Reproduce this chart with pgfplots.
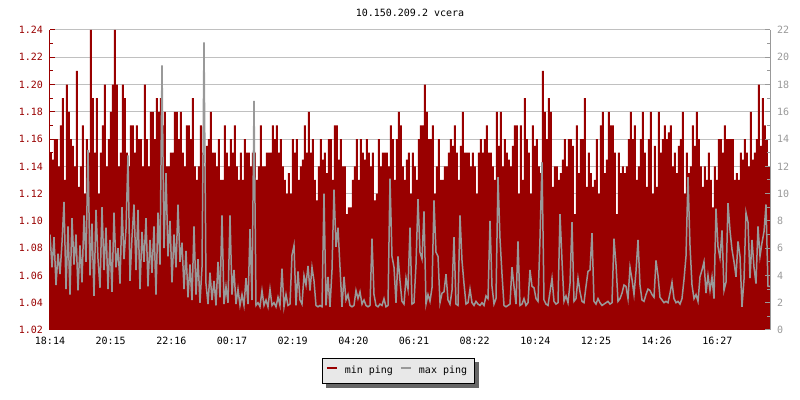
\documentclass[border=0pt]{standalone}
\usepackage{fontspec}
\setmainfont{DejaVu Sans Mono}
\usepackage{pgfplots}
\pgfplotsset{compat=1.18}
\usepackage{pgfplotstable}
\pgfdeclarelayer{background}
\pgfsetlayers{background,main}

\definecolor{ddred}{HTML}{990000}
\definecolor{pgray}{HTML}{999999}
\definecolor{gridgray}{HTML}{C0C0C0}
\definecolor{leggray}{HTML}{E8E8E8}
\definecolor{shadowgray}{HTML}{666666}
\newcommand{\sz}{\fontsize{5}{6}\selectfont}

% one sample every 4 minutes from 18:14; m = min ping (left), M = max ping (right)
\pgfplotstableread[row sep=\\]{
m M\\
1.150 7.0\\ 1.145 4.6\\ 1.160 6.8\\ 1.160 3.3\\ 1.140 5.6\\ 1.170 4.1\\ 1.190 6.4\\ 1.130 9.4\\ 1.200 3.0\\ 1.180 7.6\\
1.160 2.6\\ 1.155 8.2\\ 1.140 4.8\\ 1.210 7.0\\ 1.125 2.9\\ 1.140 6.2\\ 1.170 3.5\\ 1.120 8.4\\ 1.160 5.0\\ 1.150 13.2\\
1.240 4.0\\ 1.190 7.8\\ 1.150 2.5\\ 1.190 8.8\\ 1.120 5.2\\ 1.150 3.1\\ 1.170 9.0\\ 1.200 4.4\\ 1.140 7.5\\ 1.160 3.0\\
1.180 6.6\\ 1.200 2.8\\ 1.240 8.6\\ 1.200 4.6\\ 1.140 6.0\\ 1.150 3.4\\ 1.200 9.0\\ 1.190 5.2\\ 1.150 7.4\\ 1.140 12.8\\
1.170 3.6\\ 1.170 6.8\\ 1.150 9.2\\ 1.170 4.4\\ 1.160 8.8\\ 1.160 3.0\\ 1.140 7.2\\ 1.200 5.0\\ 1.160 8.2\\ 1.140 3.2\\
1.180 6.6\\ 1.180 4.2\\ 1.160 7.6\\ 1.190 2.6\\ 1.180 8.6\\ 1.190 4.8\\ 1.170 19.4\\ 1.180 6.0\\ 1.140 11.5\\ 1.140 5.4\\
1.150 8.0\\ 1.150 3.5\\ 1.180 7.0\\ 1.180 4.6\\ 1.160 9.2\\ 1.180 5.0\\ 1.150 6.4\\ 1.140 3.0\\ 1.170 5.8\\ 1.170 2.4\\
1.160 4.8\\ 1.190 2.2\\ 1.140 7.6\\ 1.130 2.6\\ 1.140 5.2\\ 1.170 2.0\\ 1.150 4.6\\ 1.140 21.1\\ 1.155 3.4\\ 1.160 1.9\\
1.180 4.2\\ 1.150 2.2\\ 1.150 3.6\\ 1.140 1.8\\ 1.160 5.0\\ 1.130 2.4\\ 1.130 8.4\\ 1.170 1.9\\ 1.150 3.2\\ 1.140 2.0\\
1.160 8.4\\ 1.150 2.6\\ 1.170 4.4\\ 1.140 1.9\\ 1.130 3.0\\ 1.150 1.8\\ 1.130 2.6\\ 1.160 1.8\\ 1.150 3.8\\ 1.150 1.9\\
1.140 7.4\\ 1.150 2.2\\ 1.150 16.8\\ 1.130 1.8\\ 1.140 2.0\\ 1.170 1.7\\ 1.140 2.9\\ 1.140 1.8\\ 1.150 2.2\\ 1.150 1.7\\
1.150 3.0\\ 1.170 1.8\\ 1.160 2.0\\ 1.170 1.7\\ 1.150 2.4\\ 1.160 1.8\\ 1.140 4.5\\ 1.130 1.7\\ 1.120 2.6\\ 1.135 1.8\\
1.120 1.9\\ 1.160 5.5\\ 1.150 6.2\\ 1.160 1.8\\ 1.130 4.3\\ 1.140 2.2\\ 1.145 1.9\\ 1.170 4.0\\ 1.150 3.3\\ 1.180 4.7\\
1.150 2.9\\ 1.160 4.6\\ 1.130 3.6\\ 1.115 1.8\\ 1.140 1.7\\ 1.160 1.8\\ 1.145 1.7\\ 1.150 10.0\\ 1.135 1.8\\ 1.160 3.9\\
1.160 1.7\\ 1.130 4.4\\ 1.170 10.3\\ 1.170 6.1\\ 1.145 7.5\\ 1.160 4.6\\ 1.140 1.7\\ 1.140 3.9\\ 1.105 2.2\\ 1.110 2.6\\
1.110 1.8\\ 1.130 1.7\\ 1.140 1.8\\ 1.160 2.9\\ 1.130 2.3\\ 1.160 2.8\\ 1.150 1.9\\ 1.145 2.2\\ 1.160 1.8\\ 1.150 1.7\\
1.140 1.8\\ 1.150 6.7\\ 1.115 2.6\\ 1.120 1.8\\ 1.160 1.7\\ 1.140 1.9\\ 1.150 1.8\\ 1.150 2.3\\ 1.150 1.7\\ 1.140 1.8\\
1.170 11.1\\ 1.160 5.4\\ 1.130 4.6\\ 1.160 2.0\\ 1.180 5.4\\ 1.170 3.6\\ 1.140 2.1\\ 1.130 1.9\\ 1.145 3.8\\ 1.150 3.0\\
1.120 7.5\\ 1.150 1.9\\ 1.140 2.0\\ 1.130 4.8\\ 1.160 9.6\\ 1.170 5.7\\ 1.170 5.2\\ 1.200 8.7\\ 1.180 1.9\\ 1.160 2.6\\
1.160 2.1\\ 1.170 3.1\\ 1.120 9.5\\ 1.140 5.7\\ 1.160 5.4\\ 1.130 2.0\\ 1.130 2.7\\ 1.140 2.8\\ 1.140 4.1\\ 1.150 2.2\\
1.160 1.9\\ 1.155 2.9\\ 1.170 6.8\\ 1.150 1.9\\ 1.130 1.8\\ 1.155 8.4\\ 1.180 5.1\\ 1.150 3.4\\ 1.150 1.9\\ 1.150 2.0\\
1.140 3.0\\ 1.150 2.0\\ 1.140 1.8\\ 1.120 2.1\\ 1.150 1.9\\ 1.160 1.8\\ 1.150 2.0\\ 1.160 1.8\\ 1.170 2.5\\ 1.150 2.3\\
1.150 8.0\\ 1.140 3.2\\ 1.130 1.9\\ 1.180 2.3\\ 1.155 11.2\\ 1.180 6.7\\ 1.140 4.1\\ 1.160 1.8\\ 1.150 1.7\\ 1.145 1.8\\
1.140 1.9\\ 1.155 4.6\\ 1.170 3.2\\ 1.170 1.9\\ 1.120 6.5\\ 1.170 1.8\\ 1.130 1.9\\ 1.190 2.3\\ 1.160 1.8\\ 1.150 2.0\\
1.120 4.4\\ 1.170 3.2\\ 1.155 3.1\\ 1.160 2.3\\ 1.140 2.1\\ 1.135 6.7\\ 1.210 12.3\\ 1.180 2.2\\ 1.160 1.9\\ 1.190 1.8\\
1.180 2.8\\ 1.125 3.8\\ 1.140 2.1\\ 1.140 1.9\\ 1.130 2.0\\ 1.135 8.5\\ 1.145 5.1\\ 1.160 2.1\\ 1.140 2.5\\ 1.160 2.0\\
1.160 3.4\\ 1.155 7.9\\ 1.105 2.1\\ 1.170 2.3\\ 1.135 3.8\\ 1.160 2.8\\ 1.160 2.1\\ 1.190 2.0\\ 1.125 3.2\\ 1.150 4.3\\
1.135 4.4\\ 1.125 7.1\\ 1.130 2.1\\ 1.160 1.9\\ 1.120 2.3\\ 1.170 2.0\\ 1.180 1.8\\ 1.135 1.9\\ 1.145 2.0\\ 1.180 2.1\\
1.170 1.9\\ 1.170 2.0\\ 1.150 6.7\\ 1.105 4.8\\ 1.150 2.1\\ 1.135 2.3\\ 1.140 2.7\\ 1.135 3.3\\ 1.140 3.2\\ 1.160 2.3\\
1.180 4.6\\ 1.160 3.7\\ 1.170 2.6\\ 1.130 4.3\\ 1.140 6.6\\ 1.160 3.3\\ 1.180 2.2\\ 1.150 2.1\\ 1.125 2.6\\ 1.160 3.0\\
1.180 2.9\\ 1.120 2.6\\ 1.155 2.4\\ 1.125 5.1\\ 1.180 4.0\\ 1.150 2.4\\ 1.160 2.2\\ 1.170 2.0\\ 1.160 2.1\\ 1.165 2.0\\
1.170 2.7\\ 1.140 3.5\\ 1.150 2.3\\ 1.135 2.0\\ 1.155 2.1\\ 1.160 1.9\\ 1.180 2.3\\ 1.120 3.7\\ 1.150 5.4\\ 1.135 11.2\\
1.140 6.2\\ 1.170 3.3\\ 1.155 2.3\\ 1.180 2.6\\ 1.160 2.1\\ 1.140 3.9\\ 1.125 4.4\\ 1.140 5.0\\ 1.130 2.7\\ 1.150 4.0\\
1.130 2.9\\ 1.110 3.9\\ 1.140 2.3\\ 1.130 8.9\\ 1.160 6.1\\ 1.160 5.3\\ 1.150 7.3\\ 1.170 2.9\\ 1.160 3.5\\ 1.160 9.3\\
1.160 7.3\\ 1.160 5.9\\ 1.130 5.0\\ 1.135 3.9\\ 1.130 6.5\\ 1.150 5.4\\ 1.145 1.7\\ 1.160 3.7\\ 1.150 8.6\\ 1.140 7.9\\
1.180 3.8\\ 1.145 6.6\\ 1.150 4.6\\ 1.160 3.4\\ 1.200 7.6\\ 1.155 5.4\\ 1.190 6.4\\ 1.170 7.2\\ 1.160 9.2\\ 1.140 3.2\\
1.140 3.2\\
}\ping

\begin{document}
\begin{tikzpicture}[font=\sz]
\useasboundingbox (-25pt,-35pt) rectangle (375pt,165pt);
\begin{axis}[
    scale only axis, width=360pt, height=150pt,
    xmin=0, xmax=1440, ymin=1.02, ymax=1.24,
    axis x line*=bottom, axis y line*=left,
    x axis line style={black, line width=0.5pt, -},
    y axis line style={ddred, line width=0.5pt, -},
    xtick={0,121.33,242.67,364,485.33,606.67,728,849.33,970.67,1092,1213.33,1334.67},
    xticklabels={18:14,20:15,22:16,00:17,02:19,04:20,06:21,08:22,10:24,12:25,14:26,16:27},
    ytick={1.02,1.04,1.06,1.08,1.10,1.12,1.14,1.16,1.18,1.20,1.22,1.24},
    minor ytick={1.03,1.05,1.07,1.09,1.11,1.13,1.15,1.17,1.19,1.21,1.23},
    tick align=inside,
    major tick length=2.5pt, minor tick length=1.7pt,
    x tick style={black, line width=0.5pt},
    y tick style={ddred, line width=0.5pt},
    xticklabel style={black, font=\sz},
    yticklabel style={ddred, font=\sz},
    /pgf/number format/.cd, fixed, fixed zerofill, precision=2, assume math mode=true, /pgfplots/.cd,
    ymajorgrids, major grid style={gridgray, line width=0.5pt},
    legend image code/.code={\draw[#1, line width=1pt] (0pt,1.5pt) -- (5pt,1.5pt);},
    legend style={name=leg, at={(0.484,-0.137)}, anchor=center, draw=black, line width=0.5pt,
        fill=leggray, font=\sz, inner xsep=1.5pt, inner ysep=1.5pt,
        /tikz/every odd column/.append style={column sep=1.5pt},
        /tikz/every even column/.append style={column sep=1.5pt}},
    legend columns=2,
]
\addlegendimage{ddred}
\addlegendentry{min ping}
\addlegendimage{pgray}
\addlegendentry{max ping}
\addplot[const plot, fill=ddred, draw=none, forget plot]
    table[x expr=\coordindex*4, y=m] {\ping} \closedcycle;
\end{axis}
\begin{axis}[
    scale only axis, width=360pt, height=150pt,
    xmin=0, xmax=1440, ymin=0, ymax=22,
    axis x line=none, axis y line*=right,
    y axis line style={pgray, line width=0.5pt, -},
    ytick={0,2,4,6,8,10,12,14,16,18,20,22},
    minor ytick={1,3,5,7,9,11,13,15,17,19,21},
    tick align=inside,
    major tick length=2.5pt, minor tick length=1.7pt,
    y tick style={pgray, line width=0.5pt},
    yticklabel style={pgray, font=\sz},
    /pgf/number format/assume math mode=true,
]
\addplot[pgray, line width=0.75pt, line join=miter]
    table[x expr=\coordindex*4, y=M] {\ping};
\end{axis}
\begin{pgfonlayer}{background}
\fill[shadowgray] ([shift={(2pt,-2pt)}]leg.south west) rectangle ([shift={(2pt,-2pt)}]leg.north east);
\end{pgfonlayer}
\node[font=\sz, anchor=base, black] at (180pt,156.5pt) {10.150.209.2 vcera};
\end{tikzpicture}
\end{document}
